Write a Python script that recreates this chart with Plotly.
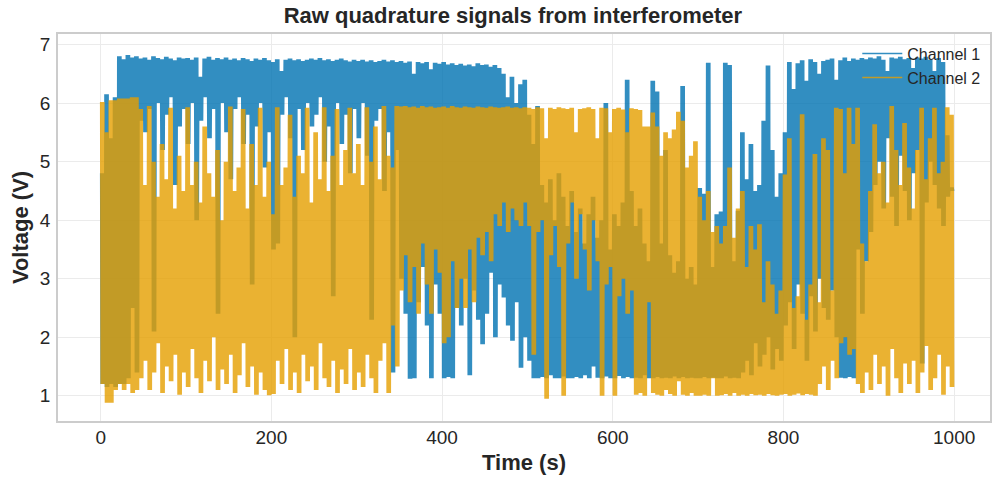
import plotly.graph_objects as go

# Each 5 s bin: the fringe signal swings repeatedly between one high and one low level
bin_start_s = list(range(0, 1000, 5))
swings_per_bin = 4

ch1_high = [
    4.8, 6.15, 5.4, 6.1, 6.8, 6.75, 6.82, 6.78, 6.8, 6.76,
    6.78, 6.74, 6.8, 6.77, 6.75, 6.79, 6.76, 6.73, 6.78, 6.76,
    6.77, 6.74, 6.78, 6.45, 6.76, 6.79, 6.74, 6.77, 6.75, 6.78,
    6.74, 6.76, 6.73, 6.77, 6.75, 6.72, 6.76, 6.74, 6.77, 6.73,
    6.7, 6.75, 6.55, 6.74, 6.76, 6.73, 6.75, 6.72, 6.74, 6.76,
    6.74, 6.77, 6.73, 6.75, 6.72, 6.74, 6.76, 6.73, 6.71, 6.74,
    6.72, 6.74, 6.71, 6.73, 6.7, 6.72, 6.74, 6.71, 6.73, 6.7,
    6.72, 6.69, 6.71, 6.5, 6.7, 6.68, 6.7, 6.58, 6.69, 6.67,
    6.7, 6.66, 6.68, 6.65, 6.67, 6.64, 6.66, 6.63, 6.68, 6.65,
    6.66, 6.62, 6.65, 6.6, 6.5, 6.1, 6.45, 6.0, 6.32, 6.4,
    5.8, 5.3, 5.95, 4.6, 4.3, 4.7, 4.0, 4.8, 4.4, 3.9,
    4.5, 3.8, 4.2, 3.6, 4.1, 4.4, 3.7, 4.0, 6.0, 3.5,
    4.1, 3.9, 4.3, 6.4, 4.5, 3.9, 4.2, 3.6, 3.3, 6.38,
    6.2, 3.6, 5.2, 3.4, 3.1, 3.3, 6.29, 3.0, 3.2, 2.9,
    4.55, 4.45, 6.69, 3.2, 4.1, 4.15, 6.69, 6.65, 3.3, 4.16,
    5.5, 4.7, 5.3, 4.5, 4.6, 5.7, 6.64, 5.2, 4.4, 4.8,
    5.5, 6.7, 6.24, 6.68, 6.73, 6.38, 6.75, 6.7, 6.5, 6.72,
    6.74, 6.76, 6.4, 6.73, 6.78, 6.72, 6.76, 6.74, 6.77, 6.75,
    6.78, 6.76, 6.8, 6.74, 6.55, 6.78, 6.76, 6.79, 6.75, 6.77,
    6.6, 6.78, 6.76, 6.79, 6.74, 6.55, 6.77, 6.7, 5.45, 4.56,
]

ch1_low = [
    1.2, 1.15, 1.2, 1.15, 1.2, 1.2, 1.3, 2.5, 1.4, 5.7,
    5.5, 5.9, 2.1, 6.0, 5.2, 5.8, 6.1, 4.6, 5.6, 5.9,
    5.3, 6.0, 4.0, 5.7, 6.1, 5.4, 5.9, 2.4, 6.0, 5.5,
    4.7, 5.9, 6.1, 5.3, 5.8, 2.9, 5.6, 6.0, 4.9, 5.5,
    3.5, 3.6, 5.8, 6.1, 5.4, 2.0, 5.9, 5.2, 6.0, 5.6,
    5.8, 6.1, 5.0, 5.6, 2.7, 6.0, 5.3, 5.8, 4.8, 5.9,
    5.4, 6.0, 5.1, 2.3, 5.7, 5.9, 4.5, 5.5, 1.4, 5.2,
    3.0, 2.4, 1.29, 1.3, 2.6, 3.2, 2.2, 1.3, 2.9, 2.4,
    1.3, 1.32, 1.3, 2.5, 2.2, 3.0, 1.35, 2.8, 2.3, 1.88,
    2.4, 3.1, 2.0, 2.9, 2.68, 2.2, 1.94, 2.6, 1.48, 2.0,
    1.6, 1.3, 1.3, 1.32, 1.3, 1.35, 1.3, 1.3, 1.33, 1.3,
    1.3, 1.32, 1.3, 1.35, 1.3, 1.5, 1.31, 1.3, 1.33, 1.3,
    1.3, 1.34, 1.3, 1.32, 1.3, 1.31, 1.3, 1.35, 1.3, 1.3,
    1.32, 1.3, 1.31, 1.3, 1.33, 1.3, 1.32, 1.3, 1.31, 1.3,
    1.3, 1.32, 1.3, 1.31, 1.3, 1.3, 1.33, 1.3, 1.31, 1.3,
    1.4, 1.6, 1.35, 1.9, 1.5, 1.7, 2.0, 1.45, 1.8, 1.6,
    2.2, 2.6, 1.8, 2.9, 2.4, 1.6, 2.7, 2.1, 3.0, 2.5,
    2.3, 2.8, 2.0, 1.31, 1.3, 1.32, 1.3, 3.5, 2.4, 3.3,
    3.8, 4.6, 5.0, 4.2, 5.4, 4.4, 3.9, 5.1, 4.5, 4.0,
    4.8, 5.2, 1.55, 4.3, 5.0, 4.6, 4.2, 3.9, 4.4, 4.5,
]

ch2_high = [
    6.02, 5.5, 6.05, 6.05, 6.08, 6.08, 6.08, 6.1, 6.1, 5.9,
    4.6, 5.95, 5.0, 4.4, 5.3, 4.7, 5.92, 4.2, 5.1, 4.5,
    5.93, 4.6, 5.0, 4.3, 5.6, 4.8, 4.4, 5.2, 4.0, 5.0,
    5.94, 4.5, 4.9, 5.9, 4.2, 5.3, 4.6, 5.92, 4.4, 5.0,
    4.1, 5.93, 4.6, 4.9, 5.8, 4.4, 5.1, 4.8, 5.92, 4.3,
    5.5, 4.7, 5.93, 4.5, 5.1, 5.9, 4.6, 5.2, 5.92, 4.8,
    5.3, 4.6, 5.93, 5.0, 5.6, 4.7, 5.95, 5.1, 4.9, 5.95,
    5.94, 5.95, 5.93, 5.94, 5.92, 5.95, 5.93, 5.94, 5.92, 5.93,
    5.94, 5.92, 5.95, 5.93, 5.92, 5.94, 5.93, 5.92, 5.94, 5.93,
    5.92, 5.94, 5.93, 5.92, 5.93, 5.94, 5.92, 5.93, 5.91, 5.93,
    5.92, 5.9, 5.93, 5.91, 5.4, 5.92, 5.9, 5.93, 5.91, 5.9,
    5.92, 5.5, 5.9, 5.91, 5.93, 5.9, 5.4, 5.92, 5.91, 5.5,
    5.9, 5.92, 5.89, 5.5, 5.91, 5.9, 5.88, 5.6, 5.6, 5.84,
    5.6, 5.1, 5.5, 5.4, 5.55, 5.85, 5.7, 4.9, 5.1, 5.35,
    4.4, 4.0, 4.5, 3.8, 3.9, 3.6, 3.9, 4.9, 3.7, 4.2,
    4.5, 3.2, 3.9, 3.5, 3.93, 2.6, 3.3, 2.9, 2.4, 2.8,
    4.78, 5.4, 2.5, 2.7, 5.81, 2.3, 2.9, 5.13, 2.6, 5.4,
    5.2, 2.8, 5.92, 5.9, 4.8, 5.92, 5.3, 5.92, 3.6, 3.3,
    4.5, 5.64, 4.8, 5.0, 4.3, 5.95, 5.2, 4.6, 5.66, 4.9,
    4.2, 5.2, 5.92, 4.7, 5.4, 5.92, 4.8, 5.0, 5.93, 5.8,
]

ch2_low = [
    1.2, 0.88, 0.88, 1.1, 1.2, 1.1, 1.2, 1.05, 1.1, 1.3,
    1.6, 1.1, 1.4, 1.9, 1.05, 1.5, 1.25, 1.7, 1.02, 1.4,
    1.15, 1.8, 1.3, 1.05, 1.6, 1.25, 2.0, 1.1, 1.45, 1.2,
    1.7, 1.05, 1.35, 1.9, 1.15, 1.5, 1.02, 1.4, 1.1, 1.01,
    1.03, 1.6, 1.2, 1.8, 1.1, 1.4, 1.05, 1.7, 1.25, 1.5,
    1.1, 1.9, 1.3, 1.15, 1.6, 1.05, 1.45, 1.2, 1.8, 1.1,
    1.4, 1.15, 1.7, 1.3, 1.05, 1.6, 1.9, 1.05, 2.2, 1.5,
    2.8, 3.4, 2.6, 3.2, 2.4, 3.6, 2.9, 2.4, 3.5, 3.1,
    1.9, 2.0, 3.3, 2.5, 3.0, 2.5, 3.5, 2.6, 3.7, 3.4,
    3.8, 3.3, 4.1, 3.9, 4.3, 3.8, 4.2, 4.0, 3.9, 4.3,
    3.9, 1.7, 3.8, 4.0, 0.95, 3.4, 3.9, 3.2, 1.0, 3.6,
    4.3, 3.0, 4.1, 3.5, 2.8, 4.0, 3.3, 1.0, 2.9, 3.2,
    1.0, 2.7, 3.0, 2.4, 2.8, 1.02, 1.05, 1.0, 2.6, 1.05,
    1.02, 1.0, 1.1, 1.03, 1.0, 1.25, 1.02, 1.0, 1.05, 1.0,
    1.0, 1.02, 1.0, 1.3, 1.0, 1.01, 1.03, 1.0, 1.05, 1.0,
    1.02, 1.0, 1.03, 1.01, 1.02, 1.0, 1.03, 1.01, 1.0, 1.02,
    1.03, 1.0, 1.02, 1.04, 1.01, 1.03, 1.02, 1.0, 1.2, 1.5,
    1.1, 1.6, 1.3, 1.9, 2.0, 1.7, 1.8, 1.2, 1.05, 1.4,
    1.1, 1.7, 1.2, 1.5, 1.0, 1.8, 1.3, 1.05, 1.55, 1.2,
    1.6, 1.05, 1.4, 1.85, 1.1, 1.3, 1.7, 1.02, 1.5, 1.15,
]

x_ticks = [0, 200, 400, 600, 800, 1000]
y_ticks = [1, 2, 3, 4, 5, 6, 7]


def fringe_trace(highs, lows):
    """Swing between each bin's high and low level several times inside the bin."""
    xs, ys = [], []
    step = 5 / (2 * swings_per_bin)
    for t, hi, lo in zip(bin_start_s, highs, lows):
        for k in range(swings_per_bin):
            xs += [t + 2 * k * step, t + (2 * k + 1) * step]
            ys += [hi, lo]
    return xs, ys


x1, y1 = fringe_trace(ch1_high, ch1_low)
x2, y2 = fringe_trace(ch2_high, ch2_low)

fig = go.Figure()
fig.add_trace(go.Scatter(x=x1, y=y1, mode="lines", name="Channel 1",
                         line=dict(color="#0072B2", width=1.5, simplify=False),
                         opacity=0.8))
fig.add_trace(go.Scatter(x=x2, y=y2, mode="lines", name="Channel 2",
                         line=dict(color="#E69F00", width=1.5, simplify=False),
                         opacity=0.8))

font_family = "Liberation Sans, Arial, sans-serif"
fig.update_layout(
    width=992, height=482,
    margin=dict(l=58, r=0, t=34, b=61),
    paper_bgcolor="white", plot_bgcolor="white",
    font=dict(family=font_family, color="#262626"),
    title=dict(text="<b>Raw quadrature signals from interferometer</b>",
               x=0.517, xref="container", xanchor="center",
               y=1 - 15 / 482, yref="container", yanchor="middle",
               font=dict(size=22, color="#262626", family=font_family)),
    showlegend=True,
    legend=dict(x=(859 - 58) / 934, y=0.993, xanchor="left", yanchor="top",
                bgcolor="rgba(0,0,0,0)", borderwidth=0,
                font=dict(size=16, color="#262626"),
                itemwidth=40, tracegroupgap=0),
)
fig.update_xaxes(
    range=[-50, 1042], tickvals=x_ticks, ticks="", showgrid=True,
    gridcolor="#ebebeb", gridwidth=1, zeroline=False,
    showline=True, linecolor="#cccccc", linewidth=1.6, mirror=True,
    tickfont=dict(size=19, color="#262626"), ticklabelstandoff=-2,
    title=dict(text="<b>Time (s)</b>", font=dict(size=22, color="#262626"), standoff=8),
)
fig.update_yaxes(
    range=[0.57, 7.18], tickvals=y_ticks, ticks="", showgrid=True,
    gridcolor="#ebebeb", gridwidth=1, zeroline=False,
    showline=True, linecolor="#cccccc", linewidth=1.6, mirror=True,
    tickfont=dict(size=19, color="#262626"), ticklabelstandoff=2,
    title=dict(text="<b>Voltage (V)</b>", font=dict(size=22, color="#262626"), standoff=5),
)

fig.write_html("out.html")
